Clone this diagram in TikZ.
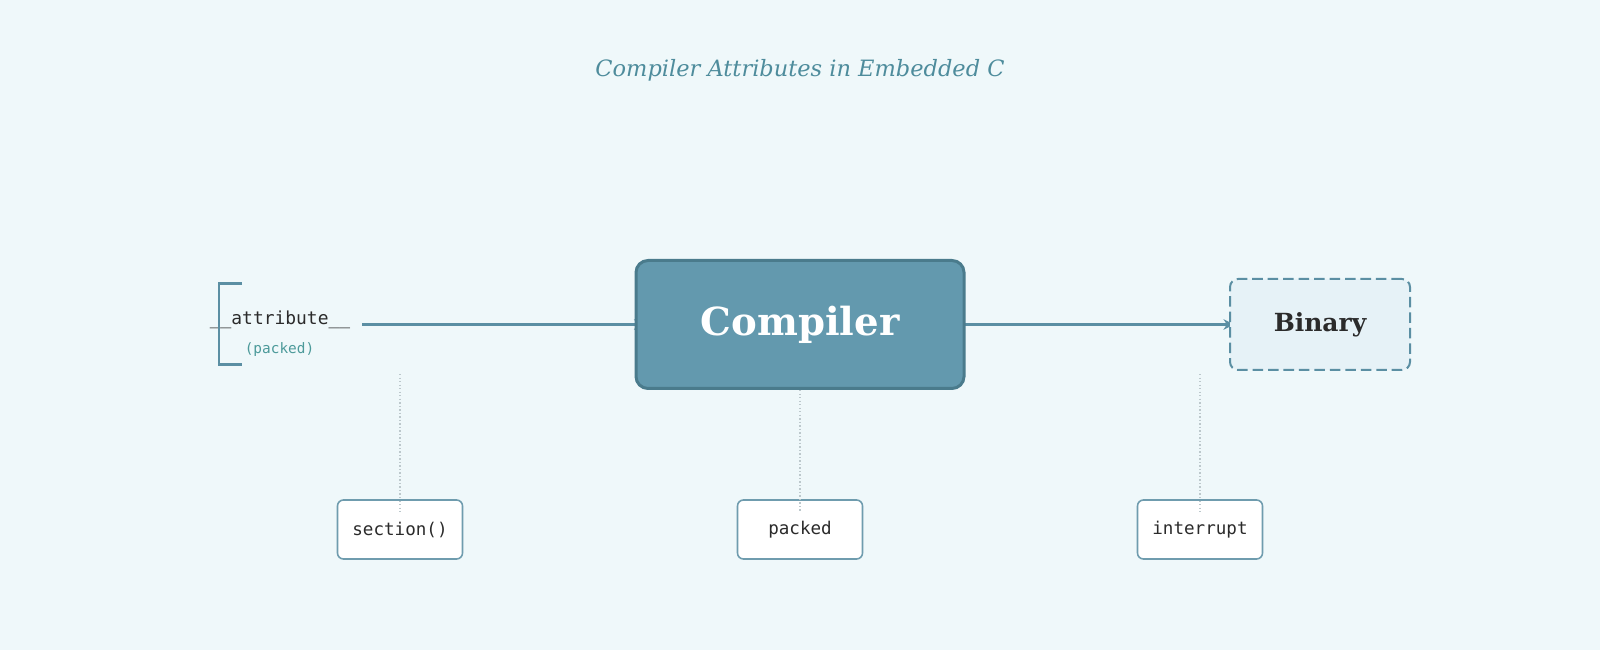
\documentclass[tikz,border=0pt]{standalone}
\usepackage{fontspec}
\setmainfont{DejaVu Serif}
\setmonofont{DejaVu Sans Mono}
\usetikzlibrary{arrows.meta}
\pgfdeclarelayer{back}
\pgfsetlayers{back,main}
\definecolor{bgcol}{HTML}{EFF8FA}
\definecolor{cmpfill}{HTML}{6399AE}
\definecolor{cmpline}{HTML}{4A7B8C}
\definecolor{linecol}{HTML}{5B8FA3}
\definecolor{binfill}{HTML}{E6F2F7}
\definecolor{tagcol}{HTML}{6F9CAE}
\definecolor{titlecol}{HTML}{4E8C9C}
\definecolor{notecol}{HTML}{4C9A9A}
\definecolor{darktxt}{HTML}{2B2B2B}
\definecolor{guidecol}{HTML}{BCC8CC}
\begin{document}
\begin{tikzpicture}[
  flow/.style={draw=linecol, line width=0.85pt, -{Stealth[length=3pt,width=3pt]}},
  tag/.style={draw=tagcol, line width=0.45pt, fill=white, rounded corners=1.7pt,
    minimum width=1.25cm, minimum height=0.59cm, inner sep=0pt,
    font=\ttfamily\fontsize{5}{6}\selectfont, text=darktxt},
  guide/.style={draw=guidecol, line width=0.3pt, dash pattern=on 0.4pt off 0.6pt}]
  \begin{pgfonlayer}{back}
    \fill[bgcol] (0,0) rectangle (16,6.5);
  \end{pgfonlayer}
  \node[text=titlecol, font=\itshape\fontsize{6.4}{8}\selectfont] (title) at (8,5.795) {Compiler Attributes in Embedded C};
  % main chain
  \node[fill=cmpfill, draw=cmpline, line width=0.85pt, rounded corners=3.4pt,
    minimum width=3.28cm, minimum height=1.28cm, text=white,
    font=\bfseries\fontsize{11}{13}\selectfont] (cmp) at (8,3.255) {Compiler};
  \node[fill=binfill, draw=linecol, line width=0.57pt, dash pattern=on 3pt off 1.4pt,
    rounded corners=2.3pt, minimum width=1.8cm, minimum height=0.91cm, text=darktxt,
    font=\bfseries\fontsize{7.1}{9}\selectfont] (bin) at (13.2,3.255) {Binary};
  \node[anchor=base, text=darktxt, font=\ttfamily\fontsize{5.1}{6}\selectfont] (attr) at (2.80,3.25) {\detokenize{__attribute__}};
  \node[anchor=base, text=notecol, font=\ttfamily\fontsize{4.1}{5}\selectfont] (note) at (2.795,2.96) {(packed)};
  \draw[linecol, line width=0.85pt] (2.42,3.66) -- (2.19,3.66) -- (2.19,2.85) -- (2.42,2.85);
  \coordinate (attrend) at (3.62,3.255);
  \begin{pgfonlayer}{back}
    \draw[flow] (attrend) -- ([xshift=0.1cm]cmp.west);
    \draw[flow] ([xshift=-0.1cm]cmp.east) -- ([xshift=0.05cm]bin.west);
  \end{pgfonlayer}
  % attribute tags
  \node[tag] (sec) at (4,1.205) {section()};
  \node[tag] (pk) at (8,1.205) {packed};
  \node[tag] (irq) at (12,1.205) {interrupt};
  \coordinate (sectop) at (4,2.76);
  \coordinate (irqtop) at (12,2.76);
  \draw[guide] (sectop) -- ([yshift=-0.13cm]sec.north);
  \draw[guide] (cmp.south) -- ([yshift=-0.13cm]pk.north);
  \draw[guide] (irqtop) -- ([yshift=-0.13cm]irq.north);
\end{tikzpicture}
\end{document}
